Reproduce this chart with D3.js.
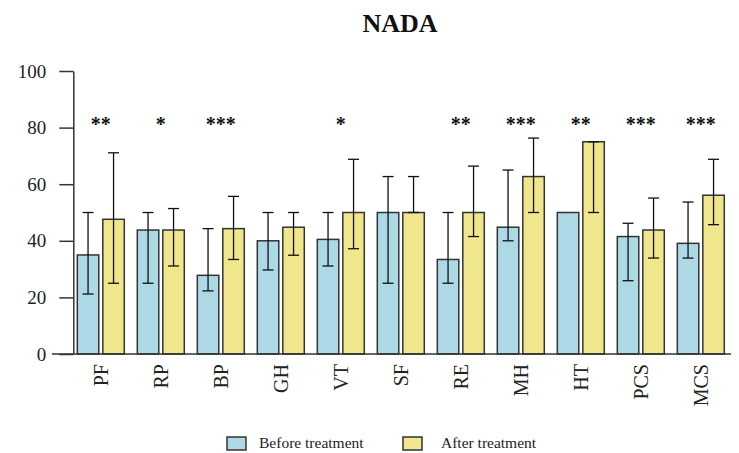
<!DOCTYPE html>
<html>
<head>
<meta charset="utf-8">
<script src="https://cdn.jsdelivr.net/npm/d3@7"></script>
<style>
body { margin: 0; background: #fff; }
text { font-family: "Liberation Serif", "Times New Roman", serif; }
</style>
</head>
<body>
<script>
// chart data
var categories = ["PF", "RP", "BP", "GH", "VT", "SF", "RE", "MH", "HT", "PCS", "MCS"];
var beforeMean = [35, 43.8, 27.8, 40, 40.5, 50, 33.4, 44.8, 50, 41.5, 39.1];
var beforeLow  = [21.2, 25, 22.3, 29.7, 31.1, 25, 25, 40, 50, 25.9, 33.9];
var beforeHigh = [50, 50, 44.3, 50, 50, 62.7, 50, 65, 50, 46.2, 53.7];
var afterMean  = [47.6, 43.8, 44.3, 44.8, 50, 50, 50, 62.7, 75, 43.8, 56.1];
var afterLow   = [25, 31.1, 33.4, 34.9, 37.2, 50, 41.5, 50, 50, 33.9, 45.7];
var afterHigh  = [71.1, 51.4, 55.7, 50, 68.8, 62.7, 66.4, 76.3, 75, 55.1, 68.8];
var stars = ["**", "*", "***", "", "*", "", "**", "***", "**", "***", "***"];
var seriesNames = ["Before treatment", "After treatment"];
var yTicks = [0, 20, 40, 60, 80, 100];

var colour1 = "#add8e6", colour2 = "#f0e68c", edge = "#333";

/*Build one row per bar from the arrays*/
var rows = [];
categories.forEach(function(c, i) {
	rows.push({cat: c, s: seriesNames[0], mean: beforeMean[i], lo: beforeLow[i], hi: beforeHigh[i], fill: colour1});
	rows.push({cat: c, s: seriesNames[1], mean: afterMean[i], lo: afterLow[i], hi: afterHigh[i], fill: colour2});
});

var svg = d3.select("body").append("svg")
	.attr("width", 739)
	.attr("height", 453);

var y = d3.scaleLinear().domain([0, 100]).range([354, 71]);
var x0 = d3.scaleBand().domain(categories).range([73.3, 728.3])
	.paddingInner(13 / 60).paddingOuter(4 / 60);
var x1 = d3.scaleBand().domain(seriesNames).range([0, x0.bandwidth()]).paddingInner(0.157);

/*Title*/
svg.append("text")
	.attr("x", 400).attr("y", 32)
	.attr("text-anchor", "middle")
	.attr("font-size", 26).attr("font-weight", "bold")
	.attr("fill", "#111")
	.text("NADA");

/*Y axis*/
var yAxis = svg.append("g")
	.attr("transform", "translate(73.3,0)")
	.call(d3.axisLeft(y).tickValues(yTicks).tickSize(14).tickSizeOuter(0).tickPadding(13));
yAxis.select(".domain").attr("stroke", edge).attr("stroke-width", 1.5);
yAxis.selectAll(".tick line").attr("stroke", edge).attr("stroke-width", 1.5);
yAxis.selectAll(".tick text")
	.attr("font-family", "Liberation Serif, serif")
	.attr("font-size", 19).attr("fill", "#222");

/*Bars*/
svg.append("g").selectAll("rect")
	.data(rows).enter().append("rect")
	.attr("x", function(d) { return x0(d.cat) + x1(d.s); })
	.attr("y", function(d) { return y(d.mean); })
	.attr("width", x1.bandwidth())
	.attr("height", function(d) { return y(0) - y(d.mean); })
	.attr("fill", function(d) { return d.fill; })
	.attr("stroke", edge).attr("stroke-width", 1.5);

/*Error bars*/
var err = svg.append("g").attr("stroke", "#111").attr("stroke-width", 1.3);
rows.forEach(function(d) {
	var cx = x0(d.cat) + x1(d.s) + x1.bandwidth() / 2;
	if (d.lo == d.hi) return;
	err.append("line").attr("x1", cx).attr("x2", cx).attr("y1", y(d.lo)).attr("y2", y(d.hi));
	err.append("line").attr("x1", cx - 5.5).attr("x2", cx + 5.5).attr("y1", y(d.hi)).attr("y2", y(d.hi));
	err.append("line").attr("x1", cx - 5.5).attr("x2", cx + 5.5).attr("y1", y(d.lo)).attr("y2", y(d.lo));
});

/*X axis line and rotated labels*/
svg.append("line")
	.attr("x1", 52).attr("x2", 731).attr("y1", y(0)).attr("y2", y(0))
	.attr("stroke", edge).attr("stroke-width", 1.5);

svg.append("g").selectAll("text")
	.data(categories).enter().append("text")
	.attr("transform", function(d) {
		return "translate(" + (x0(d) + x0.bandwidth() / 2) + ",364) rotate(-90)";
	})
	.attr("dy", "0.35em")
	.attr("text-anchor", "end")
	.attr("font-size", 20).attr("fill", "#222")
	.text(function(d) { return d; });

/*Significance stars*/
svg.append("g").selectAll("text")
	.data(categories).enter().append("text")
	.attr("x", function(d) { return x0(d) + x0.bandwidth() / 2; })
	.attr("y", y(82.3) + 9.5)
	.attr("text-anchor", "middle")
	.attr("font-size", 20).attr("font-weight", "bold").attr("fill", "#111")
	.text(function(d, i) { return stars[i]; });

/*Legend*/
var legendX = [227, 403];
var legend = svg.append("g");
seriesNames.forEach(function(s, i) {
	legend.append("rect")
		.attr("x", legendX[i]).attr("y", 437).attr("width", 19).attr("height", 13)
		.attr("fill", i == 0 ? colour1 : colour2)
		.attr("stroke", edge).attr("stroke-width", 1.5);
	legend.append("text")
		.attr("x", legendX[i] + (i == 0 ? 32 : 38)).attr("y", 448)
		.attr("font-size", 15.5).attr("fill", "#222")
		.text(s);
});
</script>
</body>
</html>
